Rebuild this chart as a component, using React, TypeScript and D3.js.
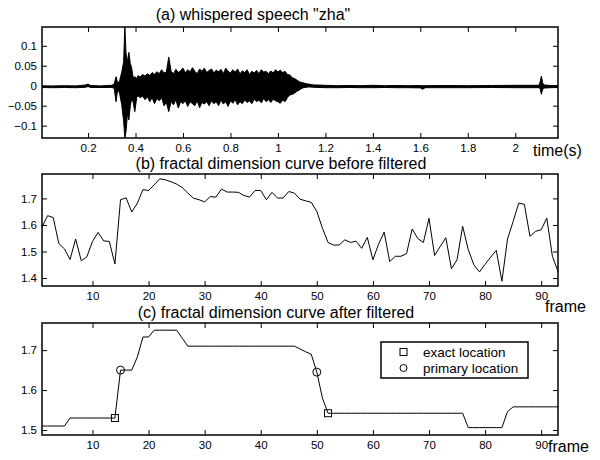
import { useEffect, useRef } from 'react'
import * as d3 from 'd3'

// (a) speech waveform, read as an upper/lower envelope (time in s, amplitude)
const speechT = [
  0.006, 0.05, 0.1, 0.15, 0.19, 0.2, 0.21, 0.25, 0.3, 0.31,
  0.318, 0.325, 0.333, 0.342, 0.35, 0.355, 0.36, 0.366, 0.372, 0.378,
  0.383, 0.39, 0.397, 0.405, 0.41, 0.42, 0.43, 0.44, 0.45, 0.46,
  0.47, 0.48, 0.49, 0.5, 0.51, 0.52, 0.53, 0.54, 0.55, 0.56,
  0.57, 0.58, 0.59, 0.6, 0.61, 0.62, 0.63, 0.64, 0.65, 0.66,
  0.67, 0.68, 0.69, 0.7, 0.71, 0.72, 0.73, 0.74, 0.75, 0.76,
  0.77, 0.78, 0.79, 0.8, 0.81, 0.82, 0.83, 0.84, 0.85, 0.86,
  0.87, 0.88, 0.89, 0.9, 0.91, 0.92, 0.93, 0.94, 0.95, 0.96,
  0.97, 0.98, 0.99, 1.0, 1.01, 1.02, 1.03, 1.04, 1.05, 1.06,
  1.07, 1.08, 1.09, 1.1, 1.11, 1.12, 1.13, 1.15, 1.2, 1.25,
  1.3, 1.35, 1.4, 1.45, 1.5, 1.55, 1.6, 1.61, 1.62, 1.7,
  1.8, 1.9, 2.0, 2.1, 2.105, 2.11, 2.115, 2.12, 2.15, 2.18,
]
const speechHi = [
  -0.0005, -0.0005, 0.0, -0.0005, 0.002, 0.004, 0.0005, -0.0005, 0.001, 0.004,
  0.0225, 0.006, 0.012, 0.034, 0.06, 0.15, 0.081, 0.06, 0.0835, 0.055,
  0.0475, 0.02, 0.0225, 0.018, 0.025, 0.022, 0.028, 0.024, 0.03, 0.026,
  0.033, 0.028, 0.035, 0.03, 0.04, 0.032, 0.034, 0.072, 0.036, 0.03,
  0.041, 0.033, 0.038, 0.044, 0.032, 0.04, 0.035, 0.045, 0.036, 0.03,
  0.042, 0.036, 0.044, 0.033, 0.038, 0.042, 0.032, 0.039, 0.035, 0.041,
  0.03, 0.044, 0.036, 0.032, 0.04, 0.034, 0.042, 0.03, 0.037, 0.033,
  0.04, 0.028, 0.036, 0.032, 0.038, 0.03, 0.04, 0.034, 0.036, 0.03,
  0.037, 0.032, 0.04, 0.034, 0.039, 0.033, 0.036, 0.028, 0.027, 0.02,
  0.018, 0.014, 0.01, 0.008, 0.0065, 0.005, 0.004, 0.002, 0.001, 0.0,
  0.0005, 0.0, 0.001, 0.0, 0.0005, 0.0, 0.0005, 0.0, 0.0, 0.0005,
  0.0, 0.0005, 0.001, 0.001, 0.01, 0.024, 0.008, 0.002, 0.0005, 0.0,
]
const speechLo = [
  -0.0045, -0.005, -0.0045, -0.005, -0.004, -0.002, -0.0045, -0.0045, -0.0045, -0.006,
  -0.04, -0.008, -0.02, -0.048, -0.09, -0.131, -0.115, -0.07, -0.086, -0.05,
  -0.036, -0.04, -0.065, -0.03, -0.025, -0.03, -0.026, -0.035, -0.028, -0.04,
  -0.03, -0.045, -0.032, -0.038, -0.03, -0.05, -0.042, -0.065, -0.04, -0.048,
  -0.035, -0.056, -0.04, -0.045, -0.038, -0.052, -0.04, -0.045, -0.05, -0.038,
  -0.055, -0.042, -0.046, -0.04, -0.05, -0.038, -0.045, -0.04, -0.05, -0.036,
  -0.046, -0.04, -0.052, -0.038, -0.044, -0.035, -0.048, -0.04, -0.045, -0.036,
  -0.042, -0.038, -0.045, -0.034, -0.04, -0.036, -0.043, -0.032, -0.04, -0.035,
  -0.042, -0.034, -0.038, -0.04, -0.044, -0.036, -0.04, -0.03, -0.023, -0.022,
  -0.019, -0.014, -0.011, -0.007, -0.0045, -0.004, -0.003, -0.004, -0.005, -0.005,
  -0.0045, -0.005, -0.005, -0.0045, -0.005, -0.005, -0.0055, -0.009, -0.005, -0.005,
  -0.005, -0.0045, -0.005, -0.005, -0.008, -0.0215, -0.01, -0.006, -0.005, -0.0045,
]

// (b) fractal dimension per frame (frame = index + 1)
const rawFD = [
  1.592, 1.635, 1.628, 1.53, 1.51, 1.47, 1.547, 1.465, 1.48, 1.538,
  1.572, 1.54, 1.538, 1.453, 1.695, 1.702, 1.649, 1.682, 1.733, 1.73,
  1.751, 1.774, 1.77, 1.763, 1.754, 1.741, 1.72, 1.701, 1.695, 1.687,
  1.707, 1.705, 1.735, 1.724, 1.724, 1.723, 1.711, 1.705, 1.73, 1.73,
  1.695, 1.723, 1.701, 1.702, 1.726, 1.72, 1.697, 1.691, 1.685, 1.651,
  1.588, 1.534, 1.524, 1.525, 1.544, 1.534, 1.539, 1.512, 1.553, 1.469,
  1.527, 1.573, 1.462, 1.482, 1.482, 1.492, 1.585, 1.549, 1.534, 1.625,
  1.485, 1.519, 1.552, 1.435, 1.469, 1.595, 1.507, 1.45, 1.423, 1.452,
  1.479, 1.504, 1.388, 1.547, 1.613, 1.682, 1.678, 1.557, 1.576, 1.582,
  1.626, 1.482, 1.425,
]

// (c) after filtering
const filteredFD = [
  1.51, 1.51, 1.51, 1.51, 1.51, 1.53, 1.53, 1.53, 1.53, 1.53,
  1.53, 1.53, 1.53, 1.53, 1.65, 1.65, 1.65, 1.683, 1.733, 1.733,
  1.75, 1.75, 1.75, 1.75, 1.75, 1.73, 1.71, 1.71, 1.71, 1.71,
  1.71, 1.71, 1.71, 1.71, 1.71, 1.71, 1.71, 1.71, 1.71, 1.71,
  1.71, 1.71, 1.71, 1.71, 1.71, 1.71, 1.703, 1.696, 1.69, 1.645,
  1.58, 1.542, 1.542, 1.542, 1.542, 1.542, 1.542, 1.542, 1.542, 1.542,
  1.542, 1.542, 1.542, 1.542, 1.542, 1.542, 1.542, 1.542, 1.542, 1.542,
  1.542, 1.542, 1.542, 1.542, 1.542, 1.542, 1.506, 1.506, 1.506, 1.506,
  1.506, 1.506, 1.506, 1.546, 1.558, 1.558, 1.558, 1.558, 1.558, 1.558,
  1.558, 1.558, 1.558,
]

const exactFrames = [14, 52]
const primaryFrames = [15, 50]

const timeTicks = [0.2, 0.4, 0.6, 0.8, 1, 1.2, 1.4, 1.6, 1.8, 2]
const ampTicks = [-0.1, -0.05, 0, 0.05, 0.1]
const frameTicks = [10, 20, 30, 40, 50, 60, 70, 80, 90]
const fdTicksB = [1.4, 1.5, 1.6, 1.7]
const fdTicksC = [1.5, 1.6, 1.7]

const FONT = '"Liberation Sans", Arial, sans-serif'

type Lin = d3.ScaleLinear<number, number>

function drawAxes(g: d3.Selection<SVGGElement, unknown, null, undefined>, x: Lin, y: Lin, xt: number[], yt: number[]) {
  const [x0, x1] = x.range()
  const [yb, yt0] = y.range()
  const strip = (s: any) => s.select('.domain').remove()

  g.append('g').attr('transform', `translate(0,${yb})`)
    .call(d3.axisBottom(x).tickValues(xt).tickSizeInner(-5).tickSizeOuter(0).tickPadding(6).tickFormat(d3.format('')))
    .call(strip)
  g.append('g').attr('transform', `translate(0,${yt0})`)
    .call(d3.axisTop(x).tickValues(xt).tickSizeInner(-5).tickSizeOuter(0).tickFormat(() => ''))
    .call(strip)
  g.append('g').attr('transform', `translate(${x0},0)`)
    .call(d3.axisLeft(y).tickValues(yt).tickSizeInner(-5).tickSizeOuter(0).tickPadding(5).tickFormat(d3.format('')))
    .call(strip)
  g.append('g').attr('transform', `translate(${x1},0)`)
    .call(d3.axisRight(y).tickValues(yt).tickSizeInner(-5).tickSizeOuter(0).tickFormat(() => ''))
    .call(strip)

  g.selectAll('.tick text').attr('font-size', 11.5).attr('font-family', FONT).attr('fill', '#000')
  g.selectAll('.tick line').attr('stroke', '#000')

  g.append('rect')
    .attr('x', x0).attr('y', yt0)
    .attr('width', x1 - x0).attr('height', yb - yt0)
    .attr('fill', 'none').attr('stroke', '#000').attr('stroke-width', 1.5)
}

export default function App() {
  const svgRef = useRef<SVGSVGElement>(null)

  useEffect(() => {
    const svg = d3.select(svgRef.current)
    svg.selectAll('*').remove()

    const left = 42, right = 558
    const txt = (x: number, y: number, s: string, size = 16, anchor = 'start') =>
      svg.append('text').attr('x', x).attr('y', y).attr('text-anchor', anchor)
        .attr('font-family', FONT).attr('font-size', size).attr('fill', '#000').text(s)

    // ---- (a) waveform
    const xa = d3.scaleLinear().domain([0.006, 2.18]).range([left, right])
    const ya = d3.scaleLinear().domain([-0.131, 0.147]).range([138, 27])
    const defs = svg.append('defs')
    defs.append('clipPath').attr('id', 'clipA').append('rect')
      .attr('x', left).attr('y', 27).attr('width', right - left).attr('height', 111)

    const env = speechT.map((t, i) => ({ t, hi: speechHi[i], lo: speechLo[i] }))
    const area = d3.area<any>().x(d => xa(d.t)).y0(d => ya(d.lo)).y1(d => ya(d.hi))
    svg.append('path').datum(env).attr('d', area)
      .attr('clip-path', 'url(#clipA)')
      .attr('fill', '#000').attr('stroke', '#000').attr('stroke-width', 1)

    drawAxes(svg.append('g'), xa, ya, timeTicks, ampTicks)
    txt(253, 20, '(a) whispered speech "zha"', 16, 'middle')
    txt(533, 156, 'time(s)')

    // ---- (b) raw fractal dimension
    const xb = d3.scaleLinear().domain([1, 93]).range([left, right])
    const yb = d3.scaleLinear().domain([1.37, 1.792]).range([286, 174])
    const line = (x: Lin, y: Lin) => d3.line<number>().x((_, i) => x(i + 1)).y(d => y(d))
    svg.append('path').datum(rawFD).attr('d', line(xb, yb))
      .attr('fill', 'none').attr('stroke', '#000').attr('stroke-width', 1)
    drawAxes(svg.append('g'), xb, yb, frameTicks, fdTicksB)
    txt(281, 169, '(b) fractal dimension curve before filtered', 16, 'middle')
    txt(545, 312, 'frame')

    // ---- (c) filtered
    const xc = d3.scaleLinear().domain([1, 93]).range([left, right])
    const yc = d3.scaleLinear().domain([1.4875, 1.768]).range([435, 323])
    svg.append('path').datum(filteredFD).attr('d', line(xc, yc))
      .attr('fill', 'none').attr('stroke', '#000').attr('stroke-width', 1)

    svg.selectAll('rect.exact').data(exactFrames).join('rect').attr('class', 'exact')
      .attr('x', f => xc(f) - 3.5).attr('y', f => yc(filteredFD[f - 1]) - 3.5)
      .attr('width', 7).attr('height', 7)
      .attr('fill', 'none').attr('stroke', '#000').attr('stroke-width', 1)
    svg.selectAll('circle.primary').data(primaryFrames).join('circle').attr('class', 'primary')
      .attr('cx', f => xc(f)).attr('cy', f => yc(filteredFD[f - 1])).attr('r', 4)
      .attr('fill', 'none').attr('stroke', '#000').attr('stroke-width', 1)

    drawAxes(svg.append('g'), xc, yc, frameTicks, fdTicksC)
    txt(276, 318, '(c) fractal dimension curve after filtered', 16, 'middle')
    txt(548, 452, 'frame')

    // legend
    const lg = svg.append('g')
    lg.append('rect').attr('x', 381).attr('y', 342).attr('width', 147).attr('height', 36)
      .attr('fill', '#fff').attr('stroke', '#000').attr('stroke-width', 1.5)
    lg.append('rect').attr('x', 400).attr('y', 348.5).attr('width', 7).attr('height', 7)
      .attr('fill', 'none').attr('stroke', '#000')
    lg.append('circle').attr('cx', 403.5).attr('cy', 368).attr('r', 3.5)
      .attr('fill', 'none').attr('stroke', '#000')
    lg.append('text').attr('x', 423).attr('y', 356.5).attr('font-family', FONT).attr('font-size', 13.5).text('exact location')
    lg.append('text').attr('x', 423).attr('y', 372.5).attr('font-family', FONT).attr('font-size', 13.5).text('primary location')
  }, [])

  return (
    <svg
      ref={svgRef}
      width={600}
      height={460}
      style={{ position: 'absolute', left: 0, top: 0, background: '#fff' }}
    />
  )
}
